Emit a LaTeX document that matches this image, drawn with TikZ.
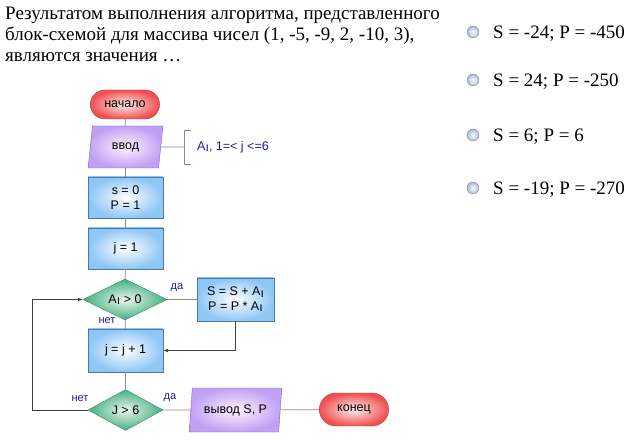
\documentclass[tikz,border=0pt]{standalone}
\usepackage{fontspec}
\setmainfont{Liberation Serif}
\newfontfamily\arialf{Liberation Sans}
\usetikzlibrary{shapes.geometric,shapes.misc,arrows.meta}
\definecolor{termD}{HTML}{A84848}
\definecolor{termI}{HTML}{FFF0F0}
\definecolor{termO}{HTML}{F05050}
\definecolor{ioD}{HTML}{8868B8}
\definecolor{ioI}{HTML}{FFF2FF}
\definecolor{ioO}{HTML}{C0A0F4}
\definecolor{procD}{HTML}{4A78A8}
\definecolor{procO}{HTML}{8EC6F6}
\definecolor{decD}{HTML}{3A8A68}
\definecolor{decI}{HTML}{EEF4EE}
\definecolor{decO}{HTML}{3EB07E}
\definecolor{lineC}{HTML}{8A8A8A}
\definecolor{loopC}{HTML}{404040}
\definecolor{lblC}{HTML}{1C1C90}
\definecolor{radD}{HTML}{7A8AAA}
\definecolor{radO}{HTML}{A8B8D8}
\newcommand{\myidx}{\raisebox{-1.5pt}{ı}}
\begin{document}
\begin{tikzpicture}[x=1pt,y=-1pt,
  fc/.style={font=\arialf\fontsize{12.5}{14.5}\selectfont, text=black},
  term/.style={fc, rounded rectangle, draw=termD, inner color=termI, outer color=termO, minimum width=76pt, minimum height=29pt},
  io/.style={fc, trapezium, trapezium left angle=82, trapezium right angle=98, trapezium stretches=true, draw=ioD, inner color=ioI, outer color=ioO, minimum width=75pt, minimum height=42pt},
  proc/.style={fc, rectangle, draw=procD, inner color=white, outer color=procO, minimum width=75pt, minimum height=41pt, align=center},
  dec/.style={fc, diamond, aspect=2, inner sep=0pt, draw=decD, inner color=decI, outer color=decO, minimum width=84pt, minimum height=41pt},
  lbl/.style={font=\arialf\fontsize{11}{13}\selectfont, text=lblC},
  flow/.style={draw=lineC, line width=0.8pt},
  loop/.style={draw=loopC, line width=0.8pt, -{Latex[length=5pt,width=4pt]}},
  qtext/.style={font=\fontsize{19}{22}\selectfont, anchor=base west, inner sep=0pt},
  radio/.style={circle, minimum size=12pt, inner sep=0pt, draw=radD, inner color=white, outer color=radO}
]
\useasboundingbox (0,0) rectangle (634,443);

% question
\node[qtext] (q1) at (5,20) {Результатом выполнения алгоритма, представленного};
\node[qtext] (q2) at (5,41) {блок-схемой для массива чисел (1, -5, -9, 2, -10, 3),};
\node[qtext] (q3) at (5,62) {являются значения \dots};

% options
\node[radio] (r1) at (473,32) {};
\node[radio] (r2) at (473,80) {};
\node[radio] (r3) at (473,135) {};
\node[radio] (r4) at (473,188) {};
\node[qtext] (o1) at (493,39) {S = -24; P = -450};
\node[qtext] (o2) at (493,87) {S = 24; P = -250};
\node[qtext] (o3) at (493,142) {S = 6; P = 6};
\node[qtext] (o4) at (493,195) {S = -19; P = -270};

% flowchart
\node[term] (start) at (125,104.5) {начало};
\node[io] (inp) at (125.5,147) {ввод};
\node[proc] (init) at (125.5,197.5) {s = 0\\P = 1};
\node[proc] (j1) at (125.5,248.5) {j = 1};
\node[dec] (d1) at (125,299.5) {A\myidx{} > 0};
\node[proc, minimum width=77pt, minimum height=43pt] (upd) at (235.5,299.5) {S = S + A\myidx\\P = P * A\myidx};
\node[proc, minimum height=43pt] (jinc) at (125.5,350.5) {j = j + 1};
\node[dec, minimum width=75pt] (d2) at (125.5,410) {J > 6};
\node[io, minimum width=93pt, minimum height=44pt] (out) at (235.5,410) {вывод S, P};
\node[term, minimum height=33pt] (end) at (354,409.5) {конец};

% comment
\coordinate (br) at (184,147);
\node[fc, anchor=west, text=lblC, inner sep=0pt] (cm) at (197,147) {A\myidx, 1=< j <=6};
\draw[flow] (inp.east) -- (br);
\draw[flow] (br) ++(7,-17) -- ++(-7,0) -- ++(0,34) -- ++(7,0);

% connectors
\draw[flow] (start) -- (inp);
\draw[flow] (inp) -- (init);
\draw[flow] (init) -- (j1);
\draw[flow] (j1) -- (d1);
\draw[flow] (d1) -- (jinc);
\draw[flow] (jinc) -- (d2);
\draw[flow] (d1.east) -- (upd.west);
\draw[loop] (upd.south) |- (jinc.east);
\draw[loop] (d2.west) -- ++(-55,0) |- (d1.west);
\draw[flow] (d2.east) -- (out);
\draw[flow] (out) -- (end);

% labels
\node[lbl] (l1) at (177,288) {да};
\node[lbl] (l2) at (107,321) {нет};
\node[lbl] (l3) at (80,399) {нет};
\node[lbl] (l4) at (170,398) {да};
\end{tikzpicture}
\end{document}
